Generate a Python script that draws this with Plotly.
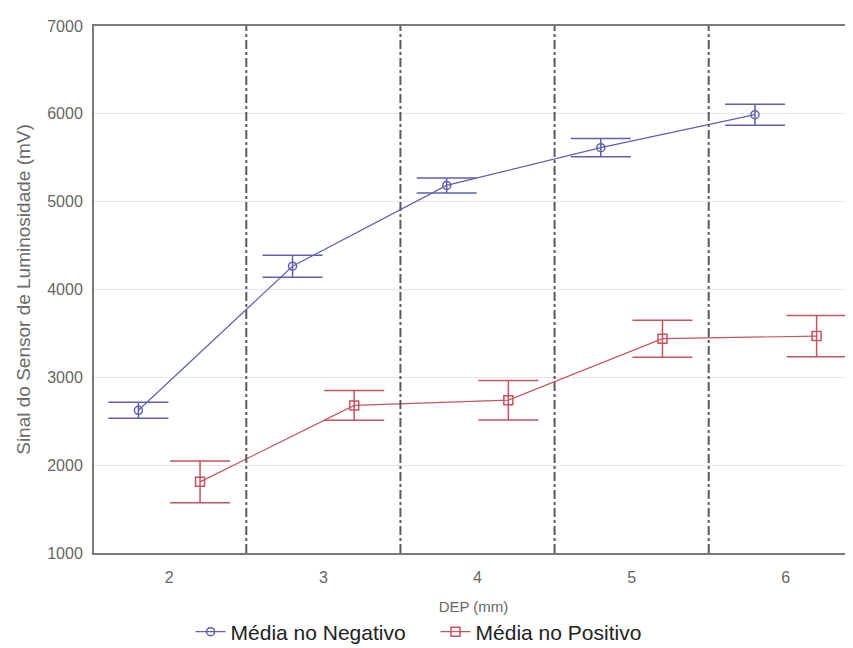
import plotly.graph_objects as go

categories = [2, 3, 4, 5, 6]
neg_mean = [2625, 4265, 5185, 5615, 5990]
neg_err = [90, 125, 85, 105, 120]
pos_mean = [1810, 2680, 2740, 3440, 3470]
pos_err = [237, 170, 225, 210, 235]
offset = 0.2

blue = "#5f5fae"
red = "#c4545f"

fig = go.Figure()
fig.add_trace(go.Scatter(
    x=[c - offset for c in categories], y=neg_mean,
    mode="lines+markers", name="Média no Negativo",
    line=dict(color=blue, width=1.2),
    marker=dict(symbol="circle-open", size=8, color=blue, line=dict(width=1.5)),
    error_y=dict(type="data", array=neg_err, visible=True, color=blue, thickness=1.5, width=30),
))
fig.add_trace(go.Scatter(
    x=[c + offset for c in categories], y=pos_mean,
    mode="lines+markers", name="Média no Positivo",
    line=dict(color=red, width=1.2),
    marker=dict(symbol="square-open", size=9, color=red, line=dict(width=1.5)),
    error_y=dict(type="data", array=pos_err, visible=True, color=red, thickness=1.5, width=30),
))

for a, b in zip(categories[:-1], categories[1:]):
    fig.add_shape(type="line", xref="x", yref="paper", x0=(a + b) / 2, x1=(a + b) / 2,
                  y0=0, y1=1, line=dict(color="#5a5a5a", width=2, dash="dashdot"), layer="above")

fig.update_layout(
    width=845, height=648,
    margin=dict(l=86, r=0, t=18, b=103),
    plot_bgcolor="white", paper_bgcolor="white",
    font=dict(family="Liberation Sans, Arial, sans-serif", color="#666666", size=12),
    showlegend=True,
    legend=dict(orientation="h", x=0.45, xanchor="center",
                y=-0.150, yanchor="middle", entrywidth=200,
                font=dict(size=21, color="#222222"), itemwidth=30),
    xaxis=dict(range=[1.512, 6.436], tickmode="array", tickvals=categories,
               ticktext=[str(c) for c in categories], showgrid=False, zeroline=False,
               showline=True, linecolor="#7a7a7a", linewidth=2, mirror=True, ticks="",
               ticklabelstandoff=9,
               title=dict(text="DEP (mm)", standoff=16, font=dict(size=15, color="#666666")),
               tickfont=dict(size=16, color="#666666")),
    yaxis=dict(range=[1000, 7000], dtick=1000, showgrid=True, gridcolor="#e6e6e6", gridwidth=1,
               zeroline=False, showline=True, linecolor="#7a7a7a", linewidth=2, ticks="",
               ticklabelstandoff=6,
               title=dict(text="Sinal do Sensor de Luminosidade (mV)", standoff=12,
                          font=dict(size=19, color="#6a6a6a")),
               tickfont=dict(size=16, color="#666666")),
)

fig.write_html("out.html")
